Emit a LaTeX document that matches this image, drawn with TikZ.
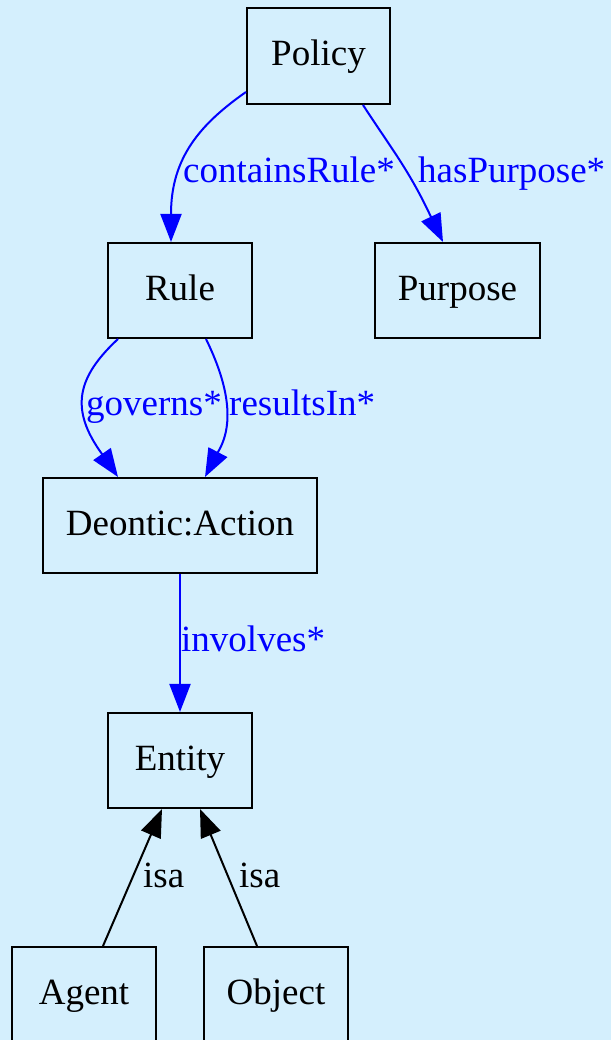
\documentclass[tikz,border=0pt]{standalone}
\usepackage{fontspec}
\setmainfont{Liberation Serif}
\usetikzlibrary{arrows.meta}
\definecolor{bgblue}{RGB}{212,239,253}

\begin{document}
\begin{tikzpicture}[x=1pt,y=1pt]

\def\boxw{144pt}
\def\boxh{95pt}
\def\fsize{\fontsize{37}{44}\selectfont}

\tikzset{box/.style = {draw, line width=2pt, minimum width=\boxw, minimum height=\boxh, inner sep=0pt, text height=24pt, text depth=4pt, font=\fsize}}
\tikzset{rel/.style = {draw=blue, line width=2pt, -{Triangle[length=28pt,width=21pt]}}}
\tikzset{isa/.style = {draw=black, line width=2pt, -{Triangle[length=28pt,width=21pt]}}}
\tikzset{lbl/.style = {anchor=base west, inner sep=0pt, text=blue, font=\fsize}}

\fill[bgblue] (0,0) rectangle (611,1040);
\useasboundingbox (0,0) rectangle (611,1040);

% nodes
\node[box, minimum width=143pt, minimum height=96pt] (Policy) at (318.5,984) {Policy};
\node[box] (Rule) at (180,749.5) {Rule};
\node[box, minimum width=165pt] (Purpose) at (457.5,749.5) {Purpose};
\node[box, minimum width=274pt] (Deontic) at (180,514.5) {Deontic:Action};
\node[box] (Entity) at (180,279.5) {Entity};
\node[box] (Agent) at (84,45.5) {Agent};
\node[box] (Object) at (276,45.5) {Object};

% Policy
\draw[rel] ([yshift=-36pt]Policy.west) to[out=215, in=90] ([xshift=-9pt,yshift=28pt]Rule.north) -- ([xshift=-9pt]Rule.north);
\node[lbl] (lcont) at (183,857) {containsRule*};

\draw[rel] ([xshift=44.5pt]Policy.south) to[out=-57, in=115] ([xshift=-26.5pt,yshift=25pt]Purpose.north) -- ([xshift=-14.5pt]Purpose.north);
\node[lbl] (lpurp) at (418,857) {hasPurpose*};

% Rule
\draw[rel] ([xshift=-62pt]Rule.south) to[out=223, in=126, looseness=1.23] ([xshift=-78pt,yshift=23pt]Deontic.north) -- ([xshift=-62pt]Deontic.north);
\node[lbl] (lgov) at (86,624) {governs*};

\draw[rel] ([xshift=26pt]Rule.south) to[out=-64, in=59, looseness=0.87] ([xshift=38pt,yshift=25pt]Deontic.north) -- ([xshift=25pt]Deontic.north);
\node[lbl] (lres) at (229,624) {resultsIn*};

% Deontic:Action
\draw[rel] (Deontic) -- (Entity);
\node[lbl] (linv) at (181,388) {involves*};

% Entity
\draw[isa] ([xshift=19pt]Agent.north) -- ([xshift=-18pt]Entity.south);
\node[lbl, text=black] (lisa1) at (143,152) {isa};

\draw[isa] ([xshift=-19pt]Object.north) -- ([xshift=20pt]Entity.south);
\node[lbl, text=black] (lisa2) at (239,152) {isa};

\end{tikzpicture}
\end{document}
